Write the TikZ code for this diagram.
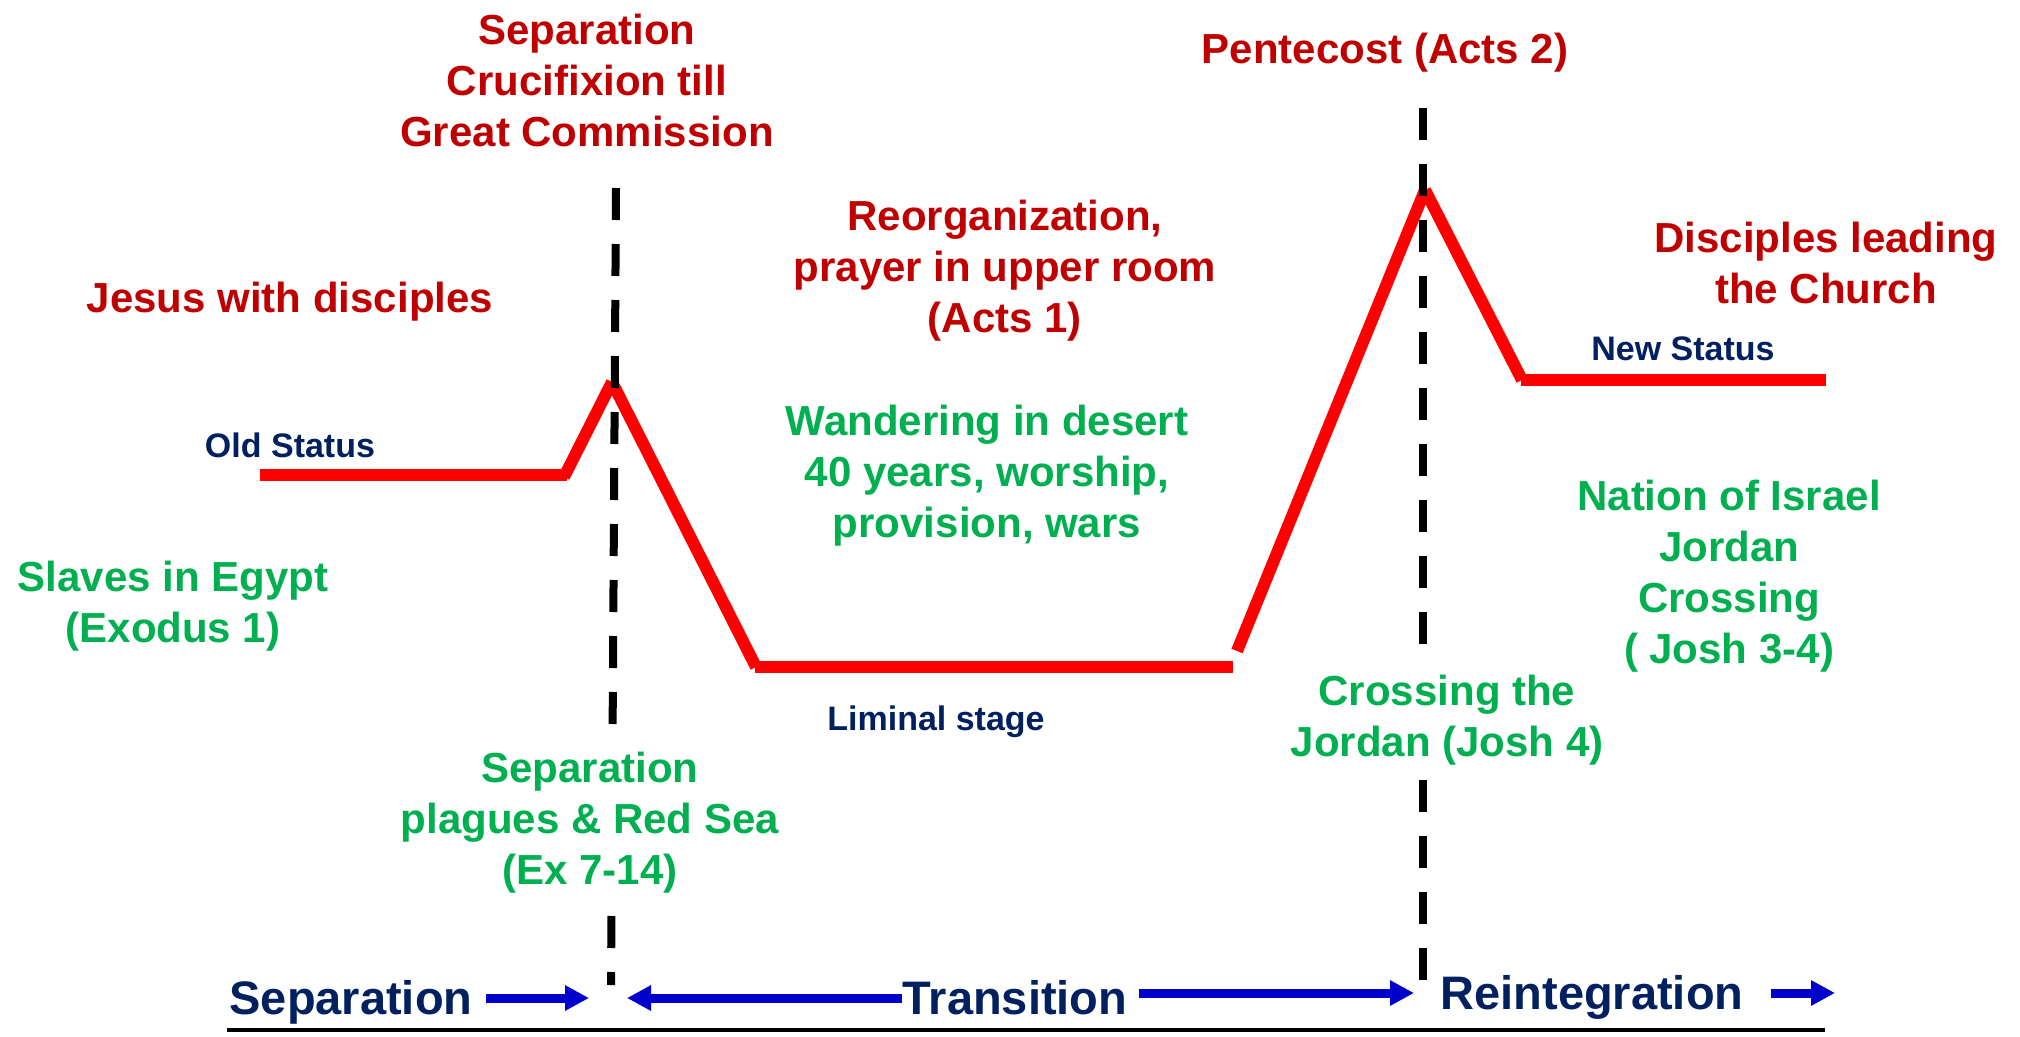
\documentclass[tikz,border=0pt]{standalone}
\usepackage{fontspec}
\setmainfont{Liberation Sans}
\usetikzlibrary{arrows.meta}
\definecolor{txtred}{HTML}{C00000}
\definecolor{txtgreen}{HTML}{00B050}
\definecolor{txtnavy}{HTML}{002060}
\definecolor{arrblue}{HTML}{0000CC}
\definecolor{linered}{HTML}{FF0000}
\begin{document}
\begin{tikzpicture}[x=1pt,y=-1pt,
  redtxt/.style={text=txtred, font=\fontsize{42}{51}\selectfont\bfseries, align=center, inner sep=0pt},
  greentxt/.style={text=txtgreen, font=\fontsize{42}{51}\selectfont\bfseries, align=center, inner sep=0pt},
  coverbox/.style={fill=white, inner xsep=4pt, inner ysep=8pt},
  navytxt/.style={text=txtnavy, font=\fontsize{34}{40}\selectfont\bfseries, inner sep=0pt},
  phasetxt/.style={text=txtnavy, font=\fontsize{47}{56}\selectfont\bfseries, inner sep=0pt, anchor=base},
  arr/.style={draw=arrblue, line width=9pt, -{Triangle[length=24pt,width=24pt]}},
  redline/.style={draw=linered, line width=12pt, line cap=butt},
  divider/.style={draw=black, line width=8pt, dash pattern=on 32pt off 24pt}]
\useasboundingbox (0,0) rectangle (2020,1036);
\fill[white] (0,0) rectangle (2020,1036);

% red status line
\coordinate (a) at (260,475);
\coordinate (b) at (567,475);
\coordinate (b2) at (564,477);
\coordinate (p1) at (612,382);
\coordinate (c) at (756,667);
\coordinate (c2) at (755,667);
\coordinate (d) at (1233,667);
\coordinate (d2) at (1237,651);
\coordinate (p2) at (1425,190);
\coordinate (e) at (1522,380);
\coordinate (e2) at (1521,380);
\coordinate (f) at (1826,380);
\draw[redline] (a) -- (b);
\draw[redline] (b2) -- (p1);
\draw[redline] (p1) -- (c);
\draw[redline] (c2) -- (d);
\draw[redline] (d2) -- (p2);
\draw[redline] (p2) -- (e);
\draw[redline] (e2) -- (f);

% dashed dividers
\coordinate (l1) at (616,188);
\coordinate (l2) at (611,985);
\coordinate (r1) at (1423,108);
\coordinate (r2) at (1423,980);
\draw[divider] (l1) -- (l2);
\draw[divider] (r1) -- (r2);

% red labels
\node[redtxt] (septop) at (587,80) {Separation\\Crucifixion till\\Great Commission};
\node[redtxt] (pent) at (1385,53) {Pentecost (Acts 2)};
\node[redtxt] (jesus) at (290,302) {Jesus with disciples};
\node[redtxt] (reorg) at (1005,271) {Reorganization,\\prayer in upper room\\(Acts 1)};
\node[redtxt] (discip) at (1826,263) {Disciples leading\\the Church};

% green labels
\node[greentxt] (wander) at (987,476) {Wandering in desert\\40 years, worship,\\provision, wars};
\node[greentxt] (slaves) at (173,606) {Slaves in Egypt\\(Exodus 1)};
\node[greentxt, coverbox] (plagues) at (590,823) {Separation\\plagues \& Red Sea\\(Ex 7-14)};
\node[greentxt, coverbox] (crossing) at (1447,720) {Crossing the\\Jordan (Josh 4)};
\node[greentxt] (nation) at (1729,576) {Nation of Israel\\Jordan\\Crossing\\( Josh 3-4)};

% status labels
\node[navytxt] (old) at (290,445) {Old Status};
\node[navytxt] (new) at (1683,349) {New Status};
\node[navytxt] (liminal) at (936,722) {Liminal stage};

% phase labels
\node[phasetxt] (sepL) at (351,1014) {Separation};
\node[phasetxt] (trans) at (1015,1014) {Transition};
\node[phasetxt] (reint) at (1592,1009) {Reintegration};

% phase arrows
\coordinate (sa) at (486,998);
\coordinate (sb) at (589,998);
\coordinate (ta) at (902,998);
\coordinate (tb) at (627,998);
\coordinate (tc) at (1139,993);
\coordinate (td) at (1414,993);
\coordinate (ra) at (1771,993);
\coordinate (rb) at (1835,993);
\draw[arr] (sa) -- (sb);
\draw[arr] (ta) -- (tb);
\draw[arr] (tc) -- (td);
\draw[arr] (ra) -- (rb);

% base line
\coordinate (g1) at (227,1030);
\coordinate (g2) at (1825,1030);
\draw[black, line width=4pt] (g1) -- (g2);
\end{tikzpicture}
\end{document}
